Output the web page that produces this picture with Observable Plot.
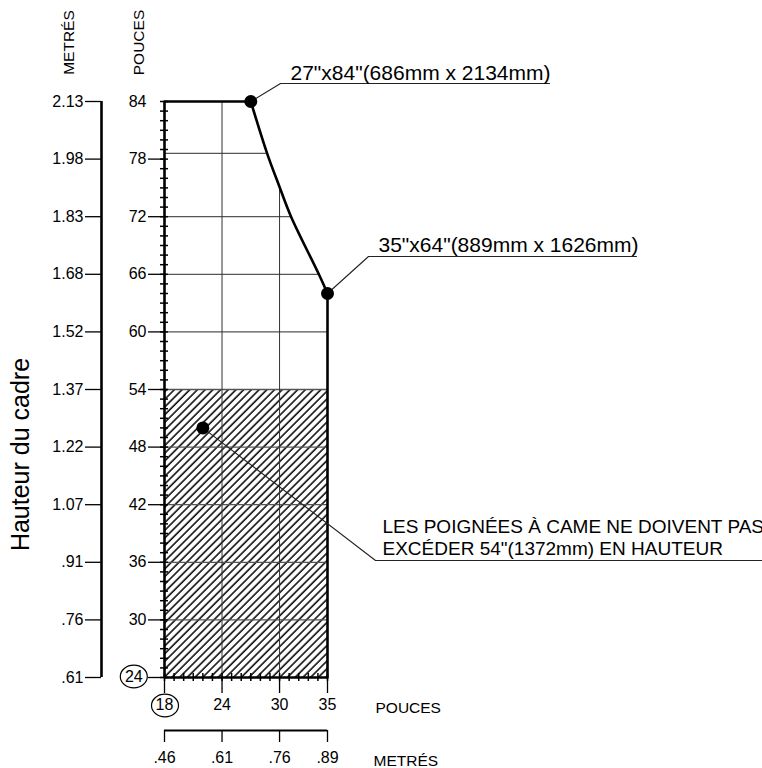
<!DOCTYPE html>
<html><head><meta charset="utf-8">
<script src="https://cdn.jsdelivr.net/npm/d3@7"></script>
<script src="https://cdn.jsdelivr.net/npm/@observablehq/plot@0.6"></script>
<style>body{margin:0;background:#fff;} svg{display:block}</style>
</head><body><div id="chart"></div>
<script>
// ---- data ----
const pouceTicksY = [84,78,72,66,60,54,48,42,36,30,24];
const metreTicksY = ["2.13","1.98","1.83","1.68","1.52","1.37","1.22","1.07",".91",".76",".61"];
const pouceTicksX = [18,24,30,35];
const metreTicksX = [".46",".61",".76",".89"];
const gridY = [78.6,72,66,60,54,48,42,36,30];
const gridYEnd = [28.7,31.2,34.1,35,35,35,35,35,35];
const gridX = [24,30];
const gridXEnd = [84,75.1];
const curveW = [27,28.7,30,31.2,34.1,35];
const curveH = [84,78.6,75.1,72,66,64];
const limitW = [18,35];
const limitH = [24,54];
const markW = [27,35,22];
const markH = [84,64,50];
const noteSize = ['27"x84"(686mm x 2134mm)','35"x64"(889mm x 1626mm)'];
const noteHandle = ["LES POIGNÉES À CAME NE DOIVENT PAS",'EXCÉDER 54"(1372mm) EN HAUTEUR'];
const titles = {yIn:"POUCES", yM:"METRÉS", xIn:"POUCES", xM:"METRÉS", axis:"Hauteur du cadre"};

// ---- pixel helpers for furniture placed outside the frame ----
const X = p => 18 + (p - 164) * 17 / 163;
const Y = p => 84 - (p - 101) / 9.6;

const ellipse = {draw(ctx){const rx=13.5, ry=11.3, k=0.5523;
  ctx.moveTo(rx,0);
  ctx.bezierCurveTo(rx,ry*k,rx*k,ry,0,ry);
  ctx.bezierCurveTo(-rx*k,ry,-rx,ry*k,-rx,0);
  ctx.bezierCurveTo(-rx,-ry*k,-rx*k,-ry,0,-ry);
  ctx.bezierCurveTo(rx*k,-ry,rx,-ry*k,rx,0);
  ctx.closePath();}};

const curvePts = curveW.map((w,i)=>({x:w,y:curveH[i]}));
const marks = markW.map((w,i)=>({x:w,y:markH[i]}));
const leaders = [
  [{x:27,y:84},{x:X(280),y:Y(83)},{x:X(549),y:Y(83)}],
  [{x:35,y:64},{x:X(368),y:Y(256)},{x:X(636),y:Y(256)}],
  [{x:22,y:50},{x:X(375),y:Y(560)},{x:X(780),y:Y(560)}]
];
const txt = (o) => Object.assign({fill:"#000", fontSize:16, lineAnchor:"middle"}, o);

const svg = Plot.plot({
  width:762, height:768,
  marginLeft:164, marginRight:435, marginTop:101, marginBottom:91,
  x:{domain:[18,35], axis:null},
  y:{domain:[24,84], axis:null},
  style:{fontFamily:"'Liberation Sans', Arial, sans-serif", background:"#fff", overflow:"visible"},
  marks:[
    Plot.rect([0],{x1:limitW[0], x2:limitW[1], y1:limitH[0], y2:limitH[1], fill:"url(#hatch)"}),
    Plot.ruleY(gridY,{y:d=>d, x1:18, x2:(d,i)=>gridYEnd[i], stroke:"#555", strokeWidth:1.3}),
    Plot.ruleX(gridX,{x:d=>d, y1:24, y2:(d,i)=>gridXEnd[i], stroke:"#333", strokeWidth:1}),
    // outline
    Plot.line([{x:18,y:84},{x:27,y:84}],{x:"x",y:"y",stroke:"#000",strokeWidth:2.6}),
    Plot.line(curvePts,{x:"x",y:"y",curve:"catmull-rom",stroke:"#000",strokeWidth:2.6}),
    Plot.line([{x:35,y:64},{x:35,y:24}],{x:"x",y:"y",stroke:"#000",strokeWidth:2.6}),
    Plot.ruleX([18],{y1:24,y2:84,stroke:"#000",strokeWidth:2.6}),
    Plot.ruleY([24],{x1:18,x2:35,stroke:"#000",strokeWidth:2.6}),
    // minor ticks
    Plot.ruleY(d3.range(24,85),{y:d=>d, x1:X(160), x2:X(168), stroke:"#000", strokeWidth:1.5}),
    Plot.ruleX(d3.range(18,36),{x:d=>d, y1:Y(673), y2:Y(681), stroke:"#000", strokeWidth:1.5}),
    // left inch ticks & labels
    Plot.ruleY(pouceTicksY.filter(v=>v!==84),{y:d=>d, x1:X(148), x2:18, stroke:"#000", strokeWidth:1.3}),
    Plot.text(pouceTicksY.filter(v=>v!==24),txt({x:X(146), y:d=>d, text:d=>String(d), textAnchor:"end"})),
    Plot.dot([0],{x:X(133.3), y:Y(676), symbol:ellipse, fill:"#fff", stroke:"#000", strokeWidth:1.2}),
    Plot.text([24],txt({x:X(133.3), y:Y(676.5), text:d=>String(d)})),
    // left metre axis
    Plot.ruleX([0],{x:X(101), y1:24, y2:84, stroke:"#000", strokeWidth:2.6}),
    Plot.ruleY(pouceTicksY,{y:d=>d, x1:X(85), x2:X(101), stroke:"#000", strokeWidth:1.3}),
    Plot.text(metreTicksY,txt({x:X(83), y:(d,i)=>pouceTicksY[i], text:d=>d, textAnchor:"end"})),
    // bottom inch ticks & labels
    Plot.ruleX(pouceTicksX,{x:d=>d, y1:24, y2:Y(693), stroke:"#000", strokeWidth:1.3}),
    Plot.dot([0],{x:X(164.5), y:Y(705), symbol:ellipse, fill:"#fff", stroke:"#000", strokeWidth:1.2}),
    Plot.text(pouceTicksX,txt({x:d=>d, y:Y(704.5), text:d=>String(d)})),
    // bottom metre axis
    Plot.ruleY([0],{y:Y(730), x1:18, x2:35, stroke:"#000", strokeWidth:2.2}),
    Plot.ruleX(pouceTicksX,{x:d=>d, y1:Y(730), y2:Y(742), stroke:"#000", strokeWidth:1.3}),
    Plot.text(metreTicksX,txt({x:(d,i)=>pouceTicksX[i], y:Y(757.5), text:d=>d})),
    // titles
    Plot.text([titles.xIn],txt({x:X(375), y:Y(708), text:d=>d, textAnchor:"start", fontSize:15.5})),
    Plot.text([titles.xM],txt({x:X(373), y:Y(760.5), text:d=>d, textAnchor:"start", fontSize:15.5})),
    Plot.text([titles.yM],txt({x:X(69), y:Y(42), text:d=>d, rotate:-90, fontSize:15.5})),
    Plot.text([titles.yIn],txt({x:X(139), y:Y(42), text:d=>d, rotate:-90, fontSize:15.5})),
    Plot.text([titles.axis],txt({x:X(20), y:Y(454), text:d=>d, rotate:-90, fontSize:25})),
    // leaders
    ...leaders.map(L=>Plot.line(L,{x:"x",y:"y",stroke:"#222",strokeWidth:1.1})),
    Plot.dot(marks,{x:"x",y:"y",r:6.5,fill:"#000"}),
    // notes
    Plot.text([noteSize[0]],txt({x:X(290), y:Y(79), text:d=>d, textAnchor:"start", lineAnchor:"bottom", fontSize:21})),
    Plot.text([noteSize[1]],txt({x:X(378), y:Y(251.5), text:d=>d, textAnchor:"start", lineAnchor:"bottom", fontSize:21})),
    Plot.text([noteHandle[0]],txt({x:X(382), y:Y(532), text:d=>d, textAnchor:"start", lineAnchor:"bottom", fontSize:19})),
    Plot.text([noteHandle[1]],txt({x:X(382), y:Y(554), text:d=>d, textAnchor:"start", lineAnchor:"bottom", fontSize:19}))
  ]
});

const defs = d3.select(svg).insert("defs", ":first-child");
const pat = defs.append("pattern").attr("id","hatch").attr("patternUnits","userSpaceOnUse")
  .attr("width",5.45).attr("height",20).attr("patternTransform","rotate(45)");
pat.append("line").attr("x1",1).attr("y1",0).attr("x2",1).attr("y2",20)
  .attr("stroke","#000").attr("stroke-width",1.5);

document.getElementById("chart").appendChild(svg);
</script></body></html>
